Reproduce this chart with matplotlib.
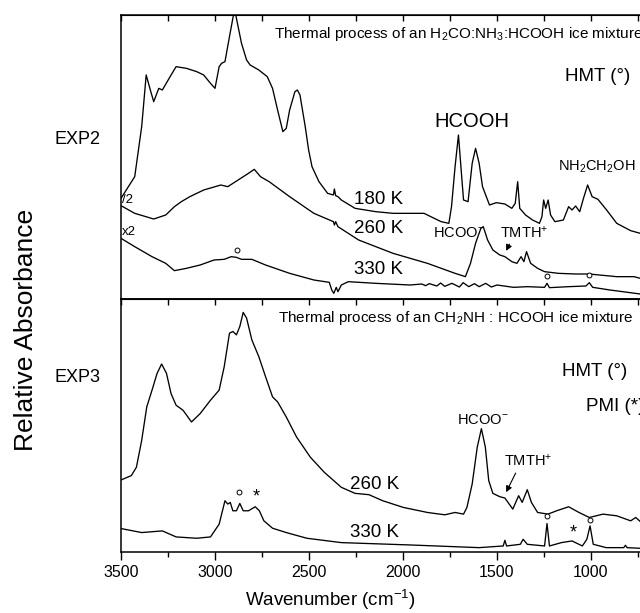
import matplotlib.pyplot as plt
from matplotlib.ticker import MultipleLocator, FixedLocator

plt.rcParams['font.family'] = ['Liberation Sans', 'DejaVu Sans']
plt.rcParams['mathtext.default'] = 'regular'

# ---- EXP2 : H2CO:NH3:HCOOH (top panel), arbitrary absorbance units ----
wn_180 = [3500, 3427, 3390, 3366, 3344, 3326, 3299, 3280, 3244, 3207, 3152, 3097, 3060,
          3024, 3000, 2978, 2965, 2947, 2923, 2896, 2877, 2859, 2832, 2813, 2767, 2722,
          2694, 2667, 2639, 2621, 2603, 2575, 2562, 2548, 2520, 2502, 2484, 2447, 2401,
          2370, 2365, 2358, 2346, 2328, 2255, 2145, 2053, 1888, 1852, 1797, 1756, 1742,
          1723, 1705, 1692, 1678, 1654, 1632, 1614, 1595, 1577, 1540, 1504, 1458, 1421,
          1403, 1390, 1379, 1348, 1311, 1274, 1261, 1252, 1241, 1228, 1215, 1192, 1147,
          1119, 1101, 1082, 1060, 1040, 1018, 994, 963, 917, 863, 789, 738, 640]
abs_180 = [302, 367, 517, 672, 627, 592, 632, 627, 662, 697, 692, 682, 672,
           647, 632, 697, 707, 712, 787, 870, 817, 767, 717, 702, 687, 667,
           632, 567, 502, 512, 567, 622, 627, 612, 517, 447, 397, 352, 317,
           312, 330, 310, 307, 297, 272, 262, 257, 257, 247, 232, 227, 277,
           397, 492, 397, 297, 292, 407, 452, 407, 337, 282, 289, 285, 272,
           287, 352, 272, 252, 237, 227, 247, 297, 272, 297, 252, 232, 237,
           277, 267, 279, 262, 302, 342, 307, 299, 267, 227, 205, 197, 188]

wn_260a = [3500, 3427, 3326, 3262, 3216, 3179, 3134, 3060, 2969, 2932, 2877, 2822, 2791,
           2758, 2712, 2603, 2474, 2370, 2365, 2358, 2346, 2236, 2053, 1870, 1723, 1668,
           1641, 1614, 1586, 1573, 1550, 1522, 1485, 1458, 1421, 1394, 1372, 1357, 1343,
           1321, 1284, 1247, 1174, 1082, 1009, 955, 863, 771, 738, 640]
abs_260a = [280, 257, 240, 252, 277, 292, 307, 327, 342, 337, 357, 377, 389,
            367, 352, 307, 257, 232, 222, 232, 217, 177, 137, 107, 77, 67,
            107, 167, 212, 217, 177, 147, 132, 127, 112, 107, 127, 112, 142,
            107, 92, 82, 77, 75, 75, 72, 67, 67, 62, 55]

wn_330a = [3500, 3427, 3335, 3262, 3216, 3152, 3079, 3005, 2951, 2914, 2886, 2859, 2804,
           2731, 2603, 2474, 2392, 2379, 2368, 2355, 2346, 2328, 2291, 2145, 1962, 1900,
           1880, 1860, 1820, 1800, 1778, 1740, 1700, 1680, 1650, 1620, 1595, 1560, 1530,
           1500, 1412, 1339, 1247, 1234, 1221, 1119, 1027, 1009, 991, 899, 738, 640]
abs_330a = [182, 157, 127, 107, 85, 92, 102, 117, 119, 127, 125, 119, 119,
            102, 77, 57, 50, 27, 17, 35, 22, 42, 52, 47, 42, 45,
            40, 46, 39, 48, 38, 47, 36, 49, 37, 46, 37, 47, 36,
            42, 35, 37, 35, 47, 34, 37, 39, 49, 35, 27, 15, 8]

# ---- EXP3 : CH2NH:HCOOH (bottom panel) ----
wn_260b = [3500, 3445, 3418, 3390, 3363, 3335, 3308, 3284, 3258, 3234, 3207, 3170, 3125,
           3079, 3024, 2978, 2951, 2923, 2905, 2886, 2868, 2850, 2832, 2804, 2767, 2731,
           2694, 2667, 2621, 2566, 2493, 2419, 2328, 2255, 2181, 2108, 1998, 1870, 1778,
           1723, 1678, 1660, 1632, 1605, 1583, 1562, 1544, 1522, 1485, 1458, 1416, 1385,
           1366, 1339, 1317, 1284, 1229, 1183, 1119, 1064, 1009, 936, 863, 789, 762, 738, 640]
abs_260b = [215, 228, 253, 333, 433, 483, 533, 561, 533, 473, 438, 423, 388,
            413, 453, 483, 553, 653, 658, 648, 673, 715, 698, 633, 583, 523,
            463, 448, 403, 343, 283, 238, 193, 175, 171, 153, 133, 118, 111,
            118, 113, 133, 203, 313, 368, 313, 213, 175, 165, 161, 128, 168,
            148, 186, 148, 118, 113, 123, 135, 118, 103, 113, 108, 93, 103, 91, 80]

wn_330b = [3500, 3390, 3280, 3207, 3097, 3024, 2978, 2947, 2932, 2919, 2905, 2886, 2868,
           2850, 2822, 2786, 2764, 2740, 2694, 2621, 2511, 2328, 1962, 1595, 1467, 1458,
           1449, 1376, 1361, 1339, 1247, 1234, 1221, 1157, 1101, 1046, 1022, 1005, 988,
           919, 826, 817, 808, 738, 640]
abs_330b = [70, 58, 63, 45, 41, 45, 83, 153, 143, 148, 123, 123, 145,
            123, 123, 135, 123, 93, 71, 58, 41, 28, 21, 13, 18, 35,
            18, 23, 38, 23, 18, 85, 18, 28, 33, 18, 38, 78, 23,
            13, 13, 20, 13, 11, 9]

# band markers: HMT (o) and PMI (*)
hmt_top = [(2881, 147), (1234, 69), (1009, 72)]
hmt_bot = [(2872, 178), (1234, 108), (1004, 95)]
pmi_bot = [(2780, 163), (1097, 58)]

tick_pos = [3500, 3000, 2500, 2000, 1500, 1000]

fig = plt.figure(figsize=(6.4, 6.13), dpi=100)
W, H = 640, 613
ax_w = 3000 * 94 / 500 / W
ax_top = fig.add_axes([121 / W, 1 - 299 / H, ax_w, 284 / H])
ax_bot = fig.add_axes([121 / W, 1 - 552 / H, ax_w, 253 / H])

ax_top.plot(wn_180, abs_180, color='k', lw=0.95)
ax_top.plot(wn_260a, abs_260a, color='k', lw=0.95)
ax_top.plot(wn_330a, abs_330a, color='k', lw=0.95)
ax_bot.plot(wn_260b, abs_260b, color='k', lw=0.95)
ax_bot.plot(wn_330b, abs_330b, color='k', lw=0.95)

ax_top.set_ylim(0, 852)
ax_bot.set_ylim(0, 755)

for ax in (ax_top, ax_bot):
    ax.set_xlim(3500, 500)
    ax.set_yticks([])
    ax.xaxis.set_major_locator(FixedLocator(tick_pos))
    ax.xaxis.set_minor_locator(MultipleLocator(250))
    for sp in ax.spines.values():
        sp.set_linewidth(1.1)
    sec = ax.secondary_xaxis('top')
    sec.xaxis.set_major_locator(MultipleLocator(250))
    sec.tick_params(direction='in', length=4.5, width=1, labeltop=False)

ax_top.tick_params(axis='x', which='both', bottom=False, labelbottom=False)
ax_bot.tick_params(axis='x', which='major', direction='out', length=6, width=1,
                   labelsize=11.5)
ax_bot.tick_params(axis='x', which='minor', direction='out', length=3.5, width=1)

# markers for HMT / PMI bands
for ax, pts in ((ax_top, hmt_top), (ax_bot, hmt_bot)):
    ax.plot([p[0] for p in pts], [p[1] for p in pts], 'o', mfc='white', mec='k',
            ms=3.5, mew=0.7)
for w, v in pmi_bot:
    ax_bot.text(w, v, '*', fontsize=13, ha='center', va='center')

# top panel texts
ax_top.text(2685, 795, 'Thermal process of an H$_2$CO:NH$_3$:HCOOH ice mixture',
            fontsize=11, va='center')
ax_top.text(1137, 667, 'HMT (°)', fontsize=13.5, va='center')
ax_top.text(1833, 532, 'HCOOH', fontsize=14.5, va='center')
ax_top.text(1178, 397, 'NH$_2$CH$_2$OH', fontsize=10.5, va='center')
ax_top.text(2258, 297, '180 K', fontsize=13.5, va='center')
ax_top.text(2258, 212, '260 K', fontsize=13.5, va='center')
ax_top.text(2258, 89, '330 K', fontsize=13.5, va='center')
ax_top.text(1842, 199, 'HCOO$^{-}$', fontsize=10.5, va='center')
ax_top.text(1485, 199, 'TMTH$^{+}$', fontsize=10.5, va='center')
ax_top.text(3494, 297, '/2', fontsize=9.5, va='center')
ax_top.text(3496, 200, 'x2', fontsize=9.5, va='center')
ax_top.annotate('', xy=(1458, 137), xytext=(1427, 172),
                arrowprops=dict(arrowstyle='-|>', color='k', lw=0.8, mutation_scale=9))

# bottom panel texts
ax_bot.text(2663, 698, 'Thermal process of an CH$_2$NH : HCOOH ice mixture',
            fontsize=11, va='center')
ax_bot.text(1156, 538, 'HMT (°)', fontsize=13.5, va='center')
ax_bot.text(1027, 433, 'PMI (*)', fontsize=13.5, va='center')
ax_bot.text(1714, 393, 'HCOO$^{-}$', fontsize=10.5, va='center')
ax_bot.text(1463, 273, 'TMTH$^{+}$', fontsize=10.5, va='center')
ax_bot.text(2282, 201, '260 K', fontsize=13.5, va='center')
ax_bot.text(2282, 58, '330 K', fontsize=13.5, va='center')
ax_bot.annotate('', xy=(1458, 171), xytext=(1394, 243),
                arrowprops=dict(arrowstyle='-|>', color='k', lw=0.8, mutation_scale=9))

fig.text(55 / W, 1 - 140 / H, 'EXP2', fontsize=13, va='center')
fig.text(55 / W, 1 - 377 / H, 'EXP3', fontsize=13, va='center')
fig.text(26 / W, 1 - 330 / H, 'Relative Absorbance', fontsize=19, rotation=90,
         ha='center', va='center')
fig.text(330 / W, 1 - 600 / H, 'Wavenumber (cm$^{-1}$)', fontsize=13.5,
         ha='center', va='center')

fig.savefig('out.png', dpi=100)
